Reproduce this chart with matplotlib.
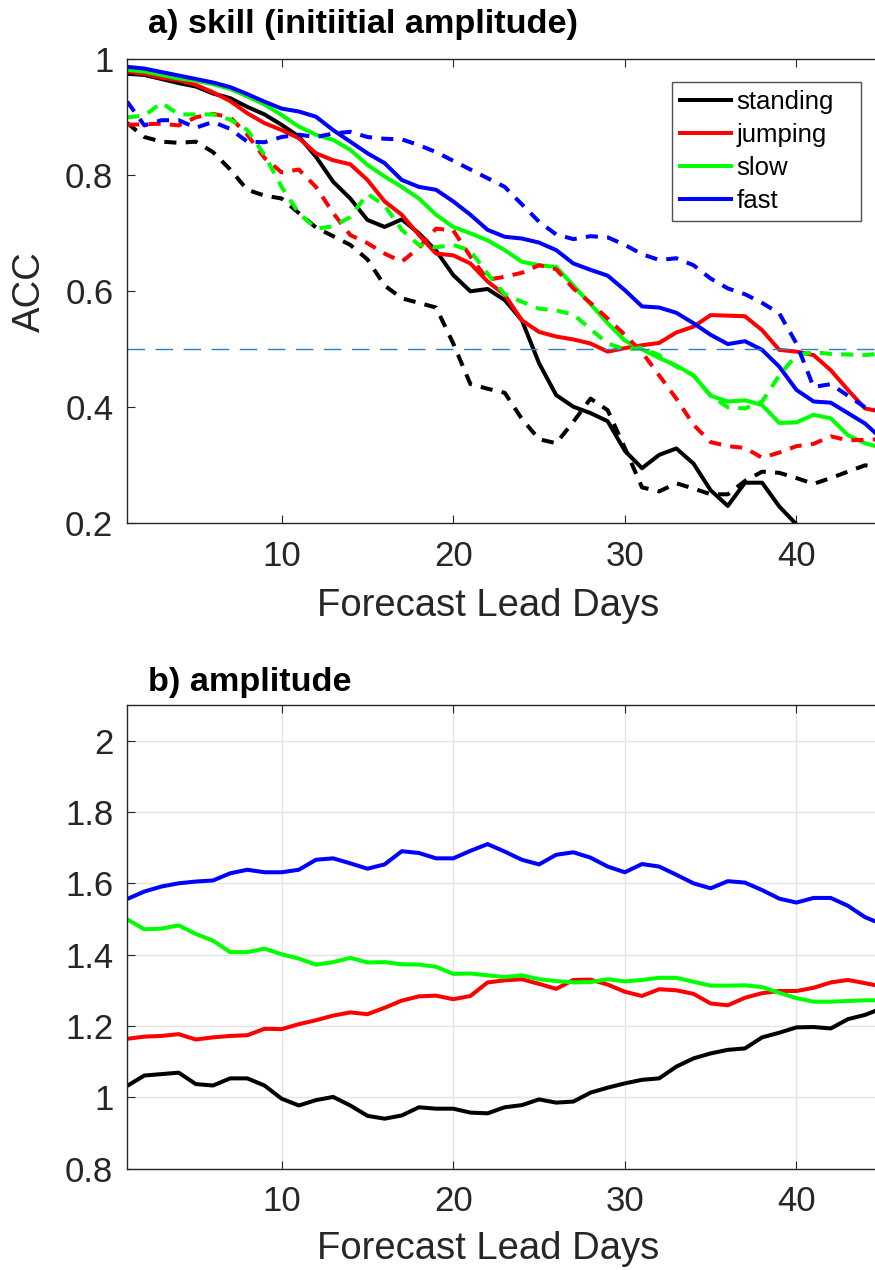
import numpy as np
import matplotlib
matplotlib.use("Agg")
import matplotlib.pyplot as plt
from matplotlib.lines import Line2D

nan = np.nan
days = np.arange(1, 46)

labels = ["standing", "jumping", "slow", "fast"]
colors = ["#000000", "#ff0000", "#00ff00", "#0000ff"]

# ACC skill, all events
acc_standing = [0.975, 0.973, 0.966, 0.959, 0.953, 0.941, 0.933, 0.918, 0.905, 0.887,
                0.867, 0.832, 0.789, 0.760, 0.723, 0.711, 0.724, 0.700, 0.670, 0.628,
                0.600, 0.604, 0.585, 0.550, 0.476, 0.421, 0.401, 0.390, 0.376, 0.325,
                0.295, 0.318, 0.329, 0.303, 0.257, 0.230, 0.270, 0.270, 0.229, 0.198,
                nan, nan, nan, nan, nan]
acc_jumping = [0.979, 0.975, 0.968, 0.964, 0.956, 0.943, 0.928, 0.907, 0.890, 0.878,
               0.864, 0.838, 0.826, 0.819, 0.792, 0.755, 0.732, 0.697, 0.665, 0.662,
               0.648, 0.617, 0.594, 0.550, 0.530, 0.522, 0.517, 0.510, 0.496, 0.502,
               0.507, 0.511, 0.529, 0.539, 0.559, 0.558, 0.557, 0.533, 0.499, 0.496,
               0.490, 0.464, 0.430, 0.398, 0.392]
acc_slow = [0.982, 0.979, 0.973, 0.967, 0.963, 0.957, 0.949, 0.936, 0.922, 0.904,
            0.884, 0.870, 0.861, 0.844, 0.818, 0.798, 0.780, 0.760, 0.732, 0.711,
            0.700, 0.688, 0.671, 0.651, 0.645, 0.642, 0.610, 0.578, 0.545, 0.515,
            0.500, 0.485, 0.472, 0.455, 0.420, 0.410, 0.412, 0.404, 0.373, 0.374,
            0.387, 0.381, 0.352, 0.338, 0.330]
acc_fast = [0.987, 0.984, 0.978, 0.972, 0.966, 0.960, 0.952, 0.940, 0.927, 0.915,
            0.910, 0.901, 0.878, 0.858, 0.838, 0.821, 0.792, 0.780, 0.775, 0.755,
            0.732, 0.706, 0.694, 0.691, 0.684, 0.671, 0.648, 0.637, 0.627, 0.602,
            0.574, 0.572, 0.563, 0.545, 0.525, 0.509, 0.514, 0.499, 0.470, 0.430,
            0.410, 0.408, 0.390, 0.372, 0.345]

# ACC skill, strong initial amplitude (dashed)
acc_standing_init = [0.890, 0.866, 0.858, 0.856, 0.858, 0.840, 0.810, 0.775, 0.765, 0.760,
                     0.735, 0.710, 0.695, 0.680, 0.655, 0.610, 0.588, 0.580, 0.572, 0.510,
                     0.440, 0.432, 0.425, 0.380, 0.345, 0.338, 0.375, 0.415, 0.395, 0.330,
                     0.262, 0.255, 0.269, 0.260, 0.250, 0.250, 0.273, 0.289, 0.287, 0.278,
                     0.268, 0.278, 0.289, 0.300, 0.295]
acc_jumping_init = [0.887, 0.888, 0.889, 0.886, 0.900, 0.906, 0.900, 0.870, 0.830, 0.805,
                    0.810, 0.780, 0.735, 0.697, 0.683, 0.665, 0.651, 0.675, 0.708, 0.705,
                    0.660, 0.620, 0.625, 0.632, 0.645, 0.638, 0.605, 0.580, 0.553, 0.525,
                    0.495, 0.455, 0.415, 0.370, 0.340, 0.333, 0.330, 0.313, 0.322, 0.333,
                    0.337, 0.350, 0.343, 0.344, 0.345]
acc_slow_init = [0.900, 0.903, 0.925, 0.905, 0.905, 0.905, 0.896, 0.878, 0.835, 0.780,
                 0.735, 0.708, 0.712, 0.728, 0.768, 0.748, 0.706, 0.680, 0.676, 0.680,
                 0.670, 0.630, 0.595, 0.582, 0.570, 0.567, 0.560, 0.535, 0.510, 0.500,
                 0.502, 0.490, 0.470, 0.455, 0.420, 0.400, 0.398, 0.410, 0.455, 0.490,
                 0.495, 0.492, 0.491, 0.490, 0.493]
acc_fast_init = [0.927, 0.886, 0.895, 0.895, 0.882, 0.892, 0.880, 0.858, 0.857, 0.866,
                 0.870, 0.866, 0.872, 0.875, 0.866, 0.863, 0.862, 0.852, 0.840, 0.825,
                 0.810, 0.795, 0.780, 0.750, 0.720, 0.698, 0.690, 0.695, 0.693, 0.680,
                 0.664, 0.654, 0.657, 0.645, 0.622, 0.605, 0.595, 0.580, 0.562, 0.510,
                 0.435, 0.440, 0.420, 0.400, 0.395]

# Amplitude
amp_standing = [1.032, 1.061, 1.065, 1.069, 1.037, 1.033, 1.053, 1.053, 1.033, 0.996,
                0.977, 0.992, 1.001, 0.977, 0.948, 0.940, 0.949, 0.972, 0.968, 0.968,
                0.957, 0.955, 0.972, 0.978, 0.994, 0.985, 0.988, 1.013, 1.027, 1.039,
                1.049, 1.053, 1.086, 1.109, 1.123, 1.133, 1.137, 1.168, 1.181, 1.196,
                1.197, 1.193, 1.219, 1.231, 1.250]
amp_jumping = [1.164, 1.170, 1.172, 1.177, 1.162, 1.168, 1.172, 1.174, 1.192, 1.191,
               1.205, 1.216, 1.229, 1.238, 1.233, 1.251, 1.271, 1.283, 1.285, 1.275,
               1.284, 1.322, 1.328, 1.331, 1.318, 1.304, 1.329, 1.330, 1.316, 1.296,
               1.284, 1.303, 1.300, 1.290, 1.263, 1.258, 1.279, 1.292, 1.298, 1.298,
               1.307, 1.322, 1.329, 1.320, 1.310]
amp_slow = [1.499, 1.471, 1.473, 1.482, 1.458, 1.439, 1.407, 1.407, 1.417, 1.401,
            1.389, 1.372, 1.379, 1.391, 1.378, 1.379, 1.373, 1.372, 1.366, 1.346,
            1.347, 1.342, 1.337, 1.342, 1.331, 1.326, 1.322, 1.323, 1.331, 1.325,
            1.329, 1.335, 1.335, 1.324, 1.313, 1.313, 1.314, 1.309, 1.293, 1.278,
            1.268, 1.268, 1.270, 1.272, 1.272]
amp_fast = [1.556, 1.577, 1.591, 1.600, 1.605, 1.608, 1.628, 1.638, 1.631, 1.631,
            1.638, 1.666, 1.670, 1.656, 1.641, 1.653, 1.690, 1.685, 1.670, 1.670,
            1.691, 1.710, 1.689, 1.666, 1.653, 1.680, 1.687, 1.672, 1.647, 1.631,
            1.654, 1.647, 1.624, 1.600, 1.586, 1.606, 1.602, 1.581, 1.557, 1.546,
            1.559, 1.559, 1.537, 1.505, 1.485]

acc_all = [acc_standing, acc_jumping, acc_slow, acc_fast]
acc_init = [acc_standing_init, acc_jumping_init, acc_slow_init, acc_fast_init]
amp_all = [amp_standing, amp_jumping, amp_slow, amp_fast]

plt.rcParams["font.family"] = ["Liberation Sans", "DejaVu Sans"]

W, H = 875, 1270
fig = plt.figure(figsize=(W / 100, H / 100), dpi=100)

x0 = 127.2
xmax = 1 + (W - x0) / 17.16
TICK_FS = 25
LABEL_FS = 27.5
TITLE_FS = 24.7
LW = 2.9
SPINE_C = "#262626"


def px_axes(left, top, right, bottom):
    return fig.add_axes([left / W, 1 - bottom / H, (right - left) / W, (bottom - top) / H])


def style(ax, ylim, yticks, yticklabels, bottom_px, height_px):
    ax.set_xlim(1, xmax)
    ax.set_ylim(*ylim)
    ax.set_xticks([10, 20, 30, 40])
    ax.set_yticks(yticks)
    ax.set_yticklabels(yticklabels)
    ax.spines["right"].set_visible(False)
    for s in ("left", "bottom", "top"):
        ax.spines[s].set_color(SPINE_C)
        ax.spines[s].set_linewidth(1.0)
    ax.tick_params(direction="in", length=5.5, width=0.8, colors=SPINE_C,
                   labelsize=TICK_FS, top=True, right=False, labelcolor="#262626")
    ax.tick_params(axis="x", pad=12)
    ax.tick_params(axis="y", pad=10)
    ax.set_xlabel("Forecast Lead Days", fontsize=LABEL_FS, color="#262626")
    ax.xaxis.label.set_va("center")
    ax.xaxis.set_label_coords((488 - x0) / (W - x0), -(bottom_px) / height_px)


# ---- panel a: skill ----
ax1 = px_axes(x0, 59.3, W, 523.3)
for vals, c in zip(acc_all, colors):
    ax1.plot(days, vals, color=c, lw=LW)
for vals, c in zip(acc_init, colors):
    ax1.plot(days, vals, color=c, lw=LW, ls=(0, (3.0, 2.3)))
ax1.axhline(0.5, color="#2f7fc1", lw=1.0, ls=(0, (12.6, 7.6)))
style(ax1, (0.2, 1.0), [0.2, 0.4, 0.6, 0.8, 1.0], ["0.2", "0.4", "0.6", "0.8", "1"],
      606 - 523.3, 464.0)
ax1.set_ylabel("ACC", fontsize=LABEL_FS, color="#262626")
ax1.yaxis.label.set_va("center")
ax1.yaxis.set_label_coords(-(127.2 - 30) / (W - x0), 1 - (292 - 59.3) / 464.0)

handles = [Line2D([], [], color=c, lw=LW) for c in colors]
bx = (672 - x0) / (W - x0)
by = 1 - (82 - 59.3) / 464.0
bw = (861 - 672) / (W - x0)
bh = (219 - 82) / 464.0
leg = ax1.legend(handles, labels, loc="upper left",
                 bbox_to_anchor=(bx, by - bh, bw, bh), mode="expand",
                 fontsize=18.5, frameon=True, fancybox=False, borderaxespad=0,
                 handlelength=2.0, handletextpad=0.22, labelspacing=0.36,
                 borderpad=0.3)
leg.get_frame().set_edgecolor(SPINE_C)
leg.get_frame().set_linewidth(1.0)

fig.text(148 / W, 1 - 24 / H, "a) skill (initiitial amplitude)", fontsize=TITLE_FS,
         fontweight="bold", ha="left", va="center", color="#000000")

# ---- panel b: amplitude ----
ax2 = px_axes(x0, 705.0, W, 1168.6)
ax2.grid(True, color="#e3e3e3", lw=1.0)
ax2.set_axisbelow(True)
for vals, c in zip(amp_all, colors):
    ax2.plot(days, vals, color=c, lw=LW)
style(ax2, (0.8, 2.1), [0.8, 1.0, 1.2, 1.4, 1.6, 1.8, 2.0],
      ["0.8", "1", "1.2", "1.4", "1.6", "1.8", "2"], 1249 - 1168.6, 463.6)

fig.text(148 / W, 1 - 682 / H, "b) amplitude", fontsize=TITLE_FS,
         fontweight="bold", ha="left", va="center", color="#000000")

fig.savefig("out.png", dpi=100)
